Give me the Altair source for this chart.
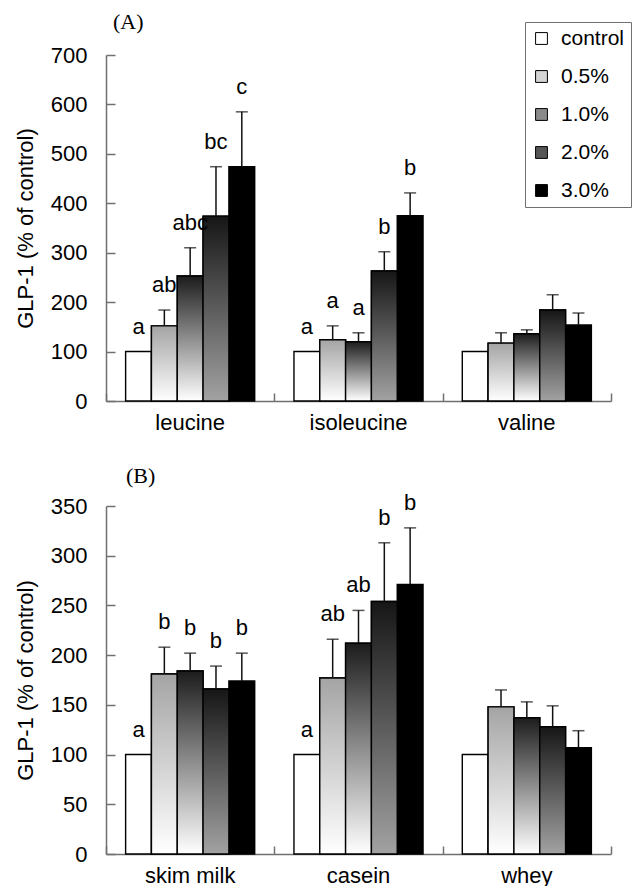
import altair as alt
import pandas as pd

series = ["control", "0.5%", "1.0%", "2.0%", "3.0%"]

# ---- Panel A ----
cats_a = ["leucine", "isoleucine", "valine"]
mean_a = {
    "leucine":    [100, 152, 253, 374, 474],
    "isoleucine": [100, 124, 120, 263, 375],
    "valine":     [100, 117, 136, 184, 154],
}
err_a = {
    "leucine":    [0, 32, 57, 100, 111],
    "isoleucine": [0, 28, 18, 39, 46],
    "valine":     [0, 21, 8, 31, 24],
}
letters_a = {
    "leucine":    ["a", "ab", "abc", "bc", "c"],
    "isoleucine": ["a", "a", "a", "b", "b"],
    "valine":     ["", "", "", "", ""],
}
ticks_a = [0, 100, 200, 300, 400, 500, 600, 700]

# ---- Panel B ----
cats_b = ["skim milk", "casein", "whey"]
mean_b = {
    "skim milk": [100, 181, 184, 166, 174],
    "casein":    [100, 177, 212, 254, 271],
    "whey":      [100, 148, 137, 128, 107],
}
err_b = {
    "skim milk": [0, 27, 18, 23, 28],
    "casein":    [0, 39, 33, 59, 57],
    "whey":      [0, 17, 16, 21, 17],
}
letters_b = {
    "skim milk": ["a", "b", "b", "b", "b"],
    "casein":    ["a", "ab", "ab", "b", "b"],
    "whey":      ["", "", "", "", ""],
}
ticks_b = [0, 50, 100, 150, 200, 250, 300, 350]

legend_colors = ["#ffffff", "#d4d4d4", "#8a8a8a", "#555555", "#000000"]
gradients = {
    "0.5%": ("#a4a4a4", "#ffffff"),
    "1.0%": ("#1c1c1c", "#ffffff"),
    "2.0%": ("#161616", "#a2a2a2"),
}

FONT = "Liberation Sans"
W = 505
AX = "#707070"
FS = 22


def frame(cats, means, errs, letters):
    rows = []
    for c in cats:
        for i, s in enumerate(series):
            rows.append({"cat": c, "series": s, "mean": means[c][i],
                         "err": errs[c][i], "upper": means[c][i] + errs[c][i],
                         "letter": letters[c][i]})
    return pd.DataFrame(rows)


def grad(top, bottom):
    return alt.LinearGradient(
        gradient="linear", x1=0, x2=0, y1=0, y2=1,
        stops=[alt.GradientStop(color=top, offset=0),
               alt.GradientStop(color=bottom, offset=1)])


def panel(df, cats, ymax, yticks, H, title, title_dx, title_offset, legend):
    base = alt.Chart(df)
    xs = alt.Scale(paddingInner=0, paddingOuter=0)
    xos = alt.Scale(domain=series, paddingInner=0, paddingOuter=0.76)
    ys = alt.Scale(domain=[0, ymax], nice=False, zero=True)

    def enc(field, xaxis=None, yaxis=None):
        return dict(
            x=alt.X("cat:N", sort=cats, scale=xs, axis=xaxis, title=None),
            xOffset=alt.XOffset("series:N", sort=series, scale=xos),
            y=alt.Y(field, scale=ys, axis=yaxis),
        )

    main_x = alt.Axis(orient="bottom", domainColor=AX, domainWidth=1.5, ticks=False,
                      labelAngle=0, labelFontSize=FS, labelFont=FONT, labelColor="#000",
                      labelPadding=11, title=None, grid=False)
    main_y = alt.Axis(orient="left", domainColor=AX, domainWidth=1.5, ticks=False,
                      values=yticks, labelFontSize=FS, labelFont=FONT, labelColor="#000",
                      labelPadding=19, title="GLP-1 (% of control)", titleFontSize=FS,
                      titleFont=FONT, titleFontWeight="normal", titleColor="#000",
                      titlePadding=13, grid=False)
    in_x = alt.Axis(orient="top", offset=-H, domain=False, labels=False, ticks=True,
                    tickBand="extent", tickSize=8, tickColor=AX, tickWidth=1.5,
                    title=None, grid=False)
    in_y = alt.Axis(orient="right", offset=-W, domain=False, labels=False, ticks=True,
                    values=yticks, tickSize=9, tickColor=AX, tickWidth=1.5,
                    title=None, grid=False)

    fill_kw = dict(sort=series, scale=alt.Scale(domain=series, range=legend_colors))
    if legend:
        fill_kw["legend"] = alt.Legend(
            title=None, orient="none", legendX=419, legendY=-33,
            symbolType="square", symbolSize=140, symbolStrokeColor="#000",
            symbolStrokeWidth=1, symbolOpacity=1, labelFontSize=21,
            labelFont=FONT, labelColor="#000", labelOffset=9,
            rowPadding=16, padding=6, strokeColor=AX, cornerRadius=0,
            fillColor="#fff")
    else:
        fill_kw["legend"] = None

    solid = base.mark_bar(stroke="#000", strokeWidth=1.4).encode(
        fill=alt.Fill("series:N", **fill_kw),
        **enc("mean:Q", main_x, main_y),
    )
    layers = [solid]
    first = True
    for s, (top, bottom) in gradients.items():
        ax_x = in_x if first else None
        ax_y = in_y if first else None
        first = False
        layers.append(
            base.transform_filter(alt.datum.series == s)
            .mark_bar(fill=grad(top, bottom), stroke="#000", strokeWidth=1.4)
            .encode(**enc("mean:Q", ax_x, ax_y))
        )
    eb = base.transform_filter(alt.datum.err > 0)
    layers.append(eb.mark_rule(color="#111", strokeWidth=1.5).encode(
        y2="upper:Q", **enc("mean:Q")))
    layers.append(eb.mark_tick(color="#111", thickness=1.5, size=12).encode(
        **enc("upper:Q")))
    layers.append(base.transform_filter(alt.datum.letter != "").mark_text(
        font=FONT, fontSize=FS, color="#000", baseline="alphabetic", dy=-18
    ).encode(text="letter:N", **enc("upper:Q")))

    return alt.layer(*layers).resolve_axis(x="independent", y="independent").properties(
        width=W, height=H,
        title=alt.TitleParams(text=title, font="Liberation Serif", fontSize=22,
                              fontWeight="normal", anchor="start", frame="group",
                              dx=title_dx, offset=title_offset, color="#000"),
    )


top = panel(frame(cats_a, mean_a, err_a, letters_a), cats_a, 700, ticks_a, 346,
            "(A)", 7, 10, True)
bottom = panel(frame(cats_b, mean_b, err_b, letters_b), cats_b, 350, ticks_b, 348,
               "(B)", 20, 4, False)

chart = alt.vconcat(top, bottom, spacing=31).resolve_scale(
    x="independent", y="independent", xOffset="independent"
).properties(
    padding={"left": 14, "top": 11, "right": 0, "bottom": 0}
).configure_view(stroke=None)

chart.save("out.html", embed_options={"renderer": "svg", "actions": False})
